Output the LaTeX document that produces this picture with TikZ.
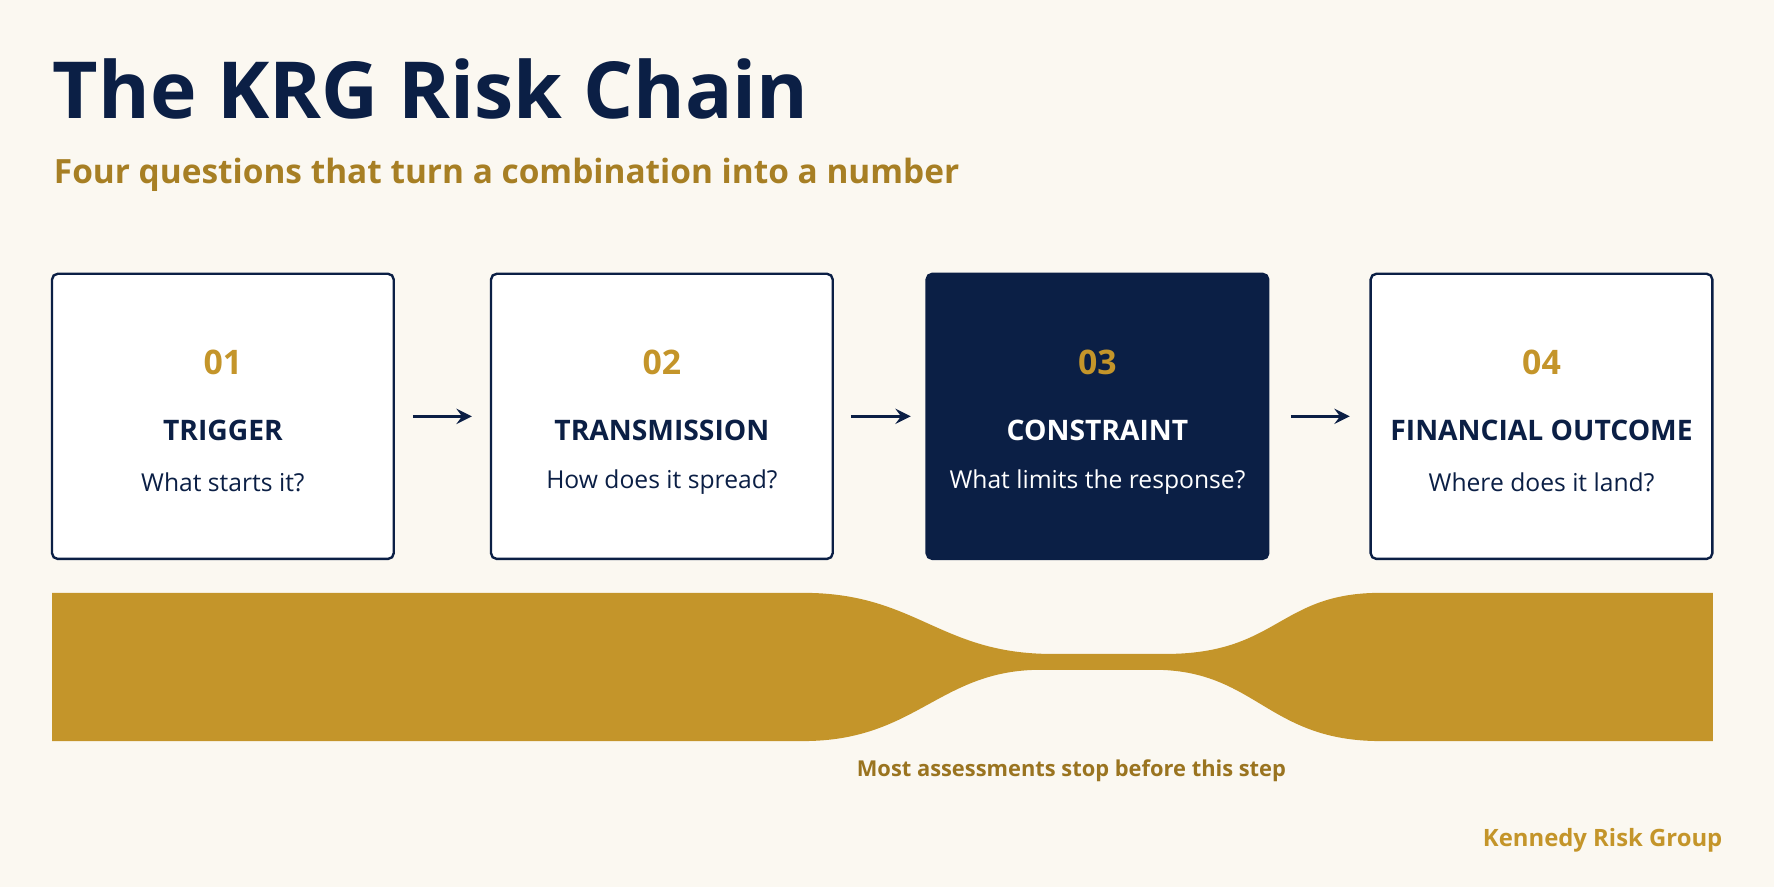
\documentclass[tikz,border=0pt]{standalone}
\usepackage{fontspec}
\setmainfont{Open Sans}
\usetikzlibrary{positioning}
\definecolor{navy}{HTML}{0B1F45}
\definecolor{gold}{HTML}{C4952A}
\definecolor{golddark}{HTML}{9A7420}
\definecolor{paper}{HTML}{FBF8F1}
\begin{document}
\begin{tikzpicture}[
  stagebox/.style={rectangle, rounded corners=0.5mm, draw=navy, line width=0.6pt, fill=white,
    minimum width=3.02cm, minimum height=2.52cm, inner sep=0pt},
  stepnum/.style={text=gold, font=\bfseries\fontsize{8.5}{10}\selectfont},
  stepname/.style={font=\bfseries\fontsize{7.1}{9}\selectfont},
  stepask/.style={font=\fontsize{6.2}{8}\selectfont},
  link/.style={navy, line width=0.7pt, ->, >=stealth}]
  \fill[paper] (0,0) rectangle (15.68,7.84);
  \useasboundingbox (0,0) rectangle (15.68,7.84);

  \node[anchor=base west, text=navy, font=\bfseries\fontsize{19.8}{24}\selectfont, inner sep=0pt] (title) at (0.46,6.79) {The KRG Risk Chain};
  \node[anchor=base west, text=gold!85!black, font=\bfseries\fontsize{8.4}{10}\selectfont, inner sep=0pt] (subtitle) at (0.47,6.22) {Four questions that turn a combination into a number};

  \node[stagebox] (trigger) at (1.97,4.16) {};
  \node[stagebox] (transmission) at (5.85,4.16) {};
  \node[stagebox, fill=navy] (constraint) at (9.70,4.16) {};
  \node[stagebox] (outcome) at (13.625,4.16) {};

  \foreach \b/\n/\t/\q/\c in {trigger/01/TRIGGER/What starts it?/navy,
      transmission/02/TRANSMISSION/How does it spread?/navy,
      constraint/03/CONSTRAINT/What limits the response?/white,
      outcome/04/FINANCIAL OUTCOME/Where does it land?/navy}{
    \node[stepnum] at ([yshift=0.48cm]\b.center) {\n};
    \node[stepname, text=\c] at ([yshift=-0.12cm]\b.center) {\t};
    \node[stepask, text=\c] at ([yshift=-0.58cm]\b.center) {\q};
  }

  \coordinate (a1) at (3.65,4.16); \coordinate (b1) at (4.17,4.16);
  \coordinate (a2) at (7.52,4.16); \coordinate (b2) at (8.05,4.16);
  \coordinate (a3) at (11.41,4.16); \coordinate (b3) at (11.93,4.16);
  \draw[link] (a1) -- (b1);
  \draw[link] (a2) -- (b2);
  \draw[link] (a3) -- (b3);

  % narrowing band
  \fill[gold] (0.46,2.60) -- (7.10,2.60) .. controls (8.1,2.60) and (8.3,2.06) .. (9.3,2.06)
    -- (10.3,2.06) .. controls (11.3,2.06) and (11.3,2.60) .. (12.2,2.60) -- (15.14,2.60)
    -- (15.14,1.29) -- (12.2,1.29) .. controls (11.2,1.29) and (11.1,1.92) .. (10.2,1.92)
    -- (9.2,1.92) .. controls (8.3,1.92) and (8.1,1.29) .. (7.1,1.29) -- (0.46,1.29) -- cycle;

  \node[text=golddark, font=\bfseries\fontsize{5.5}{7}\selectfont] (note) at (9.47,1.03) {Most assessments stop before this step};
  \node[anchor=east, text=gold, font=\bfseries\fontsize{6.0}{7}\selectfont, inner sep=0pt] (brand) at (15.23,0.41) {Kennedy Risk Group};
\end{tikzpicture}
\end{document}
